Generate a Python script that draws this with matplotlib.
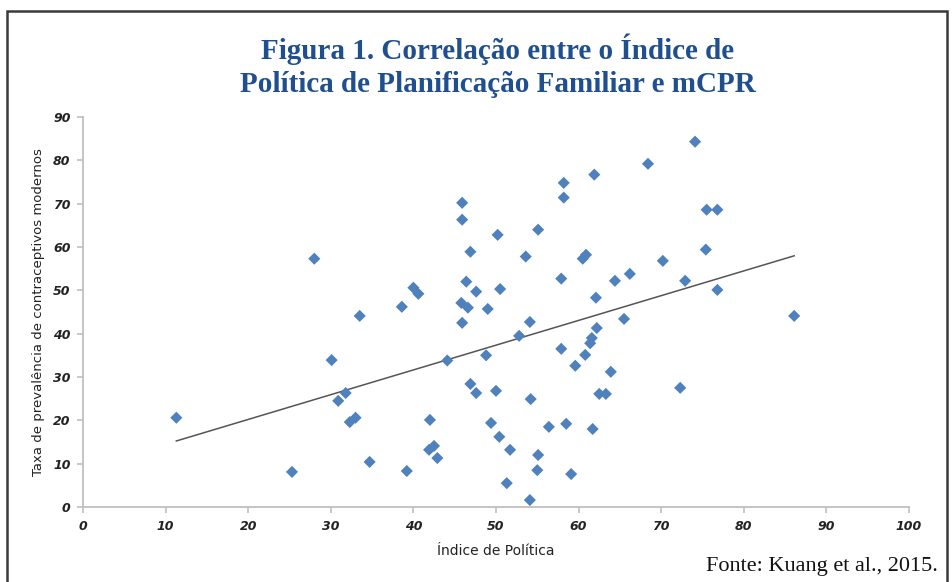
import numpy as np
import matplotlib.pyplot as plt
from matplotlib.patches import Rectangle

# Índice de Política (x) e mCPR (y)
indice = [11.3, 25.3, 28.0, 30.1, 30.9, 31.8, 32.3, 33.0, 33.5, 34.7,
          38.6, 39.2, 40.0, 40.6, 42.0, 41.9, 42.5, 42.9, 44.1, 45.9,
          45.9, 45.8, 45.9, 46.4, 46.6, 46.9, 46.9, 47.6, 47.6, 48.8,
          49.0, 49.4, 50.0, 50.2, 50.5, 50.4, 51.3, 51.7, 52.8, 53.6,
          54.1, 54.2, 54.1, 55.1, 55.1, 55.0, 56.4, 57.9, 57.9, 58.2,
          58.2, 58.5, 59.1, 59.6, 60.5, 60.9, 60.8, 61.4, 61.6, 61.7,
          61.9, 62.1, 62.2, 62.5, 63.3, 63.9, 64.4, 65.5, 66.2, 68.4,
          70.2, 72.3, 72.9, 74.1, 75.4, 75.5, 76.8, 76.8, 86.1]
mcpr = [20.6, 8.1, 57.3, 33.9, 24.5, 26.3, 19.6, 20.6, 44.1, 10.4,
        46.2, 8.3, 50.6, 49.2, 20.1, 13.2, 14.1, 11.3, 33.8, 70.2,
        66.3, 47.1, 42.5, 52.0, 46.0, 58.9, 28.4, 49.7, 26.3, 35.0,
        45.7, 19.4, 26.8, 62.8, 50.3, 16.2, 5.5, 13.2, 39.5, 57.8,
        42.7, 24.9, 1.6, 64.0, 12.0, 8.5, 18.5, 52.7, 36.5, 74.8,
        71.4, 19.2, 7.6, 32.6, 57.3, 58.2, 35.1, 37.8, 39.0, 18.0,
        76.7, 48.3, 41.3, 26.1, 26.1, 31.2, 52.2, 43.4, 53.8, 79.2,
        56.8, 27.5, 52.2, 84.3, 59.4, 68.6, 68.6, 50.1, 44.1]

xticks = list(range(0, 101, 10))
yticks = list(range(0, 91, 10))

fig = plt.figure(figsize=(9.53, 5.82), dpi=100)

# moldura
fig.patches.append(Rectangle((7 / 953, -0.05), 940 / 953, 1.05 - 11 / 582,
                             transform=fig.transFigure, fill=False,
                             edgecolor='#3a3a3a', linewidth=1.8))

fig.text(0.522, 1 - 66 / 582, "Figura 1. Correlação entre o Índice de\nPolítica de Planificação Familiar e mCPR",
         ha='center', va='center', family='Liberation Serif', fontweight='bold',
         fontsize=21, color='#1f4f8f', linespacing=1.3)

ax = fig.add_axes([83 / 953, 75 / 582, 826 / 953, 390 / 582])
ax.scatter(indice, mcpr, marker='D', s=38, color='#4f81bd', edgecolors='none', zorder=3)

# linha de tendência
coef = np.polyfit(indice, mcpr, 1)
xs = np.array([min(indice), max(indice)])
ax.plot(xs, np.polyval(coef, xs), color='#555555', linewidth=1.1, zorder=2)

ax.set_xlim(0, 100)
ax.set_ylim(0, 90)
ax.set_xticks(xticks)
ax.set_yticks(yticks)
for s in ['top', 'right']:
    ax.spines[s].set_visible(False)
for s in ['left', 'bottom']:
    ax.spines[s].set_color('#bfbfbf')
    ax.spines[s].set_linewidth(1.3)
ax.tick_params(axis='both', length=4, color='#bfbfbf', width=1.2)
for lab in ax.get_xticklabels() + ax.get_yticklabels():
    lab.set_fontweight('bold')
    lab.set_fontstyle('italic')
    lab.set_fontsize(9)
    lab.set_color('#222222')
ax.tick_params(axis='x', pad=5)
ax.tick_params(axis='y', pad=5)

ax.set_xlabel('Índice de Política', fontsize=10, labelpad=8, color='#222222')
ax.set_ylabel('Taxa de prevalência de contraceptivos modernos', fontsize=9.5, labelpad=6,
              color='#222222')

fig.text(0.984, 0.027, "Fonte: Kuang et al., 2015.", ha='right', va='center',
         family='Liberation Serif', fontsize=16, color='#111111')

fig.savefig('out.png', dpi=100)
